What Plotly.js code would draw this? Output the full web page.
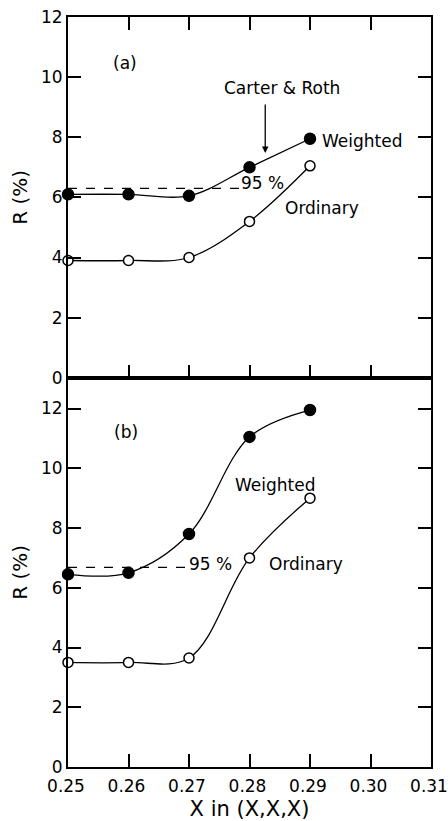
<!DOCTYPE html>
<html>
<head>
<meta charset="utf-8">
<script src="https://cdn.plot.ly/plotly-3.0.1.min.js"></script>
<style>html,body{margin:0;padding:0;background:#fff;}#chart{width:448px;height:821px;}</style>
</head>
<body>
<div id="chart"></div>
<script>
// ---- data ----
const xValues = [0.25, 0.26, 0.27, 0.28, 0.29];
const weightedA = [6.1, 6.1, 6.05, 7.0, 7.95];
const ordinaryA = [3.9, 3.9, 4.0, 5.2, 7.05];
const weightedB = [6.45, 6.5, 7.8, 11.05, 11.95];
const ordinaryB = [3.5, 3.5, 3.65, 7.0, 9.0];
const level95A = [6.3, 6.3];
const level95AX = [0.25, 0.2788];
const level95B = [6.68, 6.68];
const level95BX = [0.25, 0.2695];
const xTickVals = [0.25, 0.26, 0.27, 0.28, 0.29, 0.30, 0.31];
const yTickVals = [0, 2, 4, 6, 8, 10, 12];

const FONT = "DejaVu Sans, Arial, sans-serif";

function buildTraces(o) {
  const lineStyle = {color: "black", width: 1.3, shape: "spline", smoothing: 1};
  const filled = {symbol: "circle", size: 11, color: "black", line: {color: "black", width: 1.5}};
  const open = {symbol: "circle", size: 10, color: "white", line: {color: "black", width: 1.5}};
  const dashLine = {color: "black", width: 1.3, dash: "dash"};
  const t = [
    {x: level95AX, y: level95A, xaxis: "x", yaxis: "y", mode: "lines", line: dashLine},
    {x: xValues, y: weightedA, xaxis: "x", yaxis: "y", mode: "lines+markers", line: lineStyle, marker: filled},
    {x: xValues, y: ordinaryA, xaxis: "x", yaxis: "y", mode: "lines+markers", line: lineStyle, marker: open},
    {x: level95BX, y: level95B, xaxis: "x2", yaxis: "y2", mode: "lines", line: dashLine},
    {x: xValues, y: weightedB, xaxis: "x2", yaxis: "y2", mode: "lines+markers", line: lineStyle, marker: filled},
    {x: xValues, y: ordinaryB, xaxis: "x2", yaxis: "y2", mode: "lines+markers", line: lineStyle, marker: open}
  ];
  if (o.noclip) t.forEach(tr => { tr.cliponaxis = false; });
  return t;
}

function buildLayout(o) {
  const ax = (extra) => {
    const a = Object.assign({
      showgrid: false, zeroline: false, showline: true, linecolor: "black", linewidth: 2,
      ticks: "inside", ticklen: 13, tickwidth: 2, tickcolor: "black"
    }, extra);
    return a;
  };
  const title = (text, size, standoff) => {
    const t = {text: text, font: {family: FONT, size: size, color: "black"}};
    if (o.standoff) t.standoff = standoff;
    return t;
  };
  const txt = (text, x, y, xref, yref, xanchor, extra) => Object.assign({
    text: text, x: x, y: y, xref: xref, yref: yref, showarrow: false,
    xanchor: xanchor || "center", yanchor: "middle",
    font: {family: FONT, size: 17, color: "black"}
  }, extra || {});

  const xa = {domain: [0, 1], anchor: "y", range: [0.25, 0.31], tickvals: xTickVals, showticklabels: false, mirror: "allticks"};
  const ya = {domain: [0.519, 1], anchor: "x", range: [0, 12], tickvals: yTickVals, mirror: "allticks"};
  const xb = {domain: [0, 1], anchor: "y2", range: [0.25, 0.31], tickvals: xTickVals, mirror: true};
  const yb = {domain: [0, 0.519], anchor: "x2", range: [0, 13.03], tickvals: yTickVals, mirror: "allticks"};
  if (o.fmt) { xa.tickformat = ".2f"; xb.tickformat = ".2f"; ya.tickformat = "d"; yb.tickformat = "d"; }
  if (o.x2extras) { xb.ticklabeloverflow = "allow"; xb.ticklabelshift = -2; xb.ticklabelstandoff = 3; }

  const annotations = [];
  if (o.axisTitles) {
    ya.title = title("R (%)", 20, 8);
    yb.title = title("R (%)", 20, 8);
    xb.title = title("X in (X,X,X)", 21, 8);
  } else {
    annotations.push(txt("R (%)", -0.132, 0.759, "paper", "paper", "center", {textangle: -90, font: {family: FONT, size: 20, color: "black"}}));
    annotations.push(txt("R (%)", -0.132, 0.259, "paper", "paper", "center", {textangle: -90, font: {family: FONT, size: 20, color: "black"}}));
    annotations.push(txt("X in (X,X,X)", 0.5, -0.057, "paper", "paper", "center", {font: {family: FONT, size: 21, color: "black"}}));
  }
  if (o.annots) {
    annotations.push(
      txt("(a)", 0.2594, 10.47, "x", "y"),
      txt("Carter &amp; Roth", 0.2854, 9.64, "x", "y"),
      {text: "", x: 0.2826, y: 7.48, xref: "x", yref: "y", showarrow: true,
       ax: 0, ay: -50, arrowhead: 2, arrowsize: 1, arrowwidth: 1.3, arrowcolor: "black", standoff: 0},
      txt("Weighted", 0.2917, 7.86, "x", "y", "left"),
      txt("95 %", 0.2822, 6.48, "x", "y"),
      txt("Ordinary", 0.2855, 5.66, "x", "y", "left"),
      txt("(b)", 0.2596, 11.23, "x2", "y2"),
      txt("Weighted", 0.2773, 9.45, "x2", "y2", "left"),
      txt("95 %", 0.2736, 6.80, "x2", "y2"),
      txt("Ordinary", 0.2829, 6.80, "x2", "y2", "left")
    );
  }

  const layout = {
    width: 448, height: 821,
    margin: {l: 68, r: 17, t: 17, b: 54},
    font: {family: FONT, size: 17, color: "black"},
    xaxis: ax(xa), yaxis: ax(ya), xaxis2: ax(xb), yaxis2: ax(yb),
    annotations: annotations
  };
  if (!o.legend) layout.showlegend = false;
  return layout;
}

const variants = [
  {axisTitles: true, standoff: true, annots: true, fmt: true, x2extras: true, noclip: true, legend: false},
  {axisTitles: true, standoff: false, annots: true, fmt: true, x2extras: true, noclip: true, legend: false},
  {axisTitles: false, standoff: false, annots: true, fmt: true, x2extras: true, noclip: true, legend: false},
  {axisTitles: false, standoff: false, annots: true, fmt: true, x2extras: false, noclip: true, legend: false},
  {axisTitles: false, standoff: false, annots: true, fmt: false, x2extras: false, noclip: true, legend: false},
  {axisTitles: false, standoff: false, annots: true, fmt: false, x2extras: false, noclip: false, legend: false},
  {axisTitles: false, standoff: false, annots: false, fmt: false, x2extras: false, noclip: false, legend: false}
];

(async function () {
  const gd = document.getElementById("chart");
  for (const v of variants) {
    await Plotly.react(gd, buildTraces(v), buildLayout(v), {staticPlot: true});
    if (gd.querySelectorAll("path.ticks").length > 0) break;
  }
})();
</script>
</body>
</html>
